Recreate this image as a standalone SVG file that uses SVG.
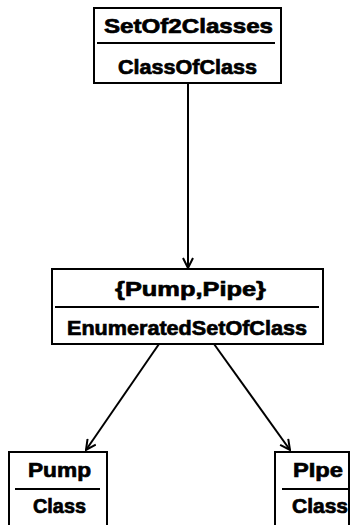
<svg xmlns="http://www.w3.org/2000/svg" width="350" height="525" viewBox="0 0 350 525">
<style>
.box{fill:#fff;stroke:#000;stroke-width:2}
.div{stroke:#000;stroke-width:2}
.t{font-family:"Liberation Sans",Arial,sans-serif;font-weight:bold;font-size:21px;fill:#000;stroke:#000;stroke-width:0.7}
.edge{stroke:#000;stroke-width:2;fill:none}
</style>
<defs>
<marker id="arr" viewBox="0 0 12 12" refX="11" refY="6" markerWidth="12" markerHeight="12" markerUnits="userSpaceOnUse" orient="auto">
<path d="M1,1 L11,6 L1,11" fill="none" stroke="#000" stroke-width="2"/>
</marker>
</defs>
<g id="connectors">
<line class="edge" x1="188" y1="83" x2="188" y2="268" marker-end="url(#arr)"/>
<line class="edge" x1="159" y1="344" x2="86" y2="450" marker-end="url(#arr)"/>
<line class="edge" x1="214" y1="344" x2="290" y2="450" marker-end="url(#arr)"/>
</g>
<g id="SetOf2Classes">
<rect class="box" x="94" y="8" width="187" height="75"/>
<line class="div" x1="97" y1="43" x2="275" y2="43"/>
<text class="t" x="104" y="33" textLength="169" lengthAdjust="spacingAndGlyphs">SetOf2Classes</text>
<text class="t" x="118" y="74" textLength="139" lengthAdjust="spacingAndGlyphs">ClassOfClass</text>
</g>
<g id="PumpPipe">
<rect class="box" x="52" y="269" width="271" height="75"/>
<line class="div" x1="55" y1="307" x2="319" y2="307"/>
<text class="t" x="115" y="296" textLength="151" lengthAdjust="spacingAndGlyphs">{Pump,Pipe}</text>
<text class="t" x="67" y="335" textLength="240" lengthAdjust="spacingAndGlyphs">EnumeratedSetOfClass</text>
</g>
<g id="Pump">
<rect class="box" x="9" y="452" width="98" height="80"/>
<line class="div" x1="15" y1="489" x2="100" y2="489"/>
<text class="t" x="28" y="477" textLength="63" lengthAdjust="spacingAndGlyphs">Pump</text>
<text class="t" x="33" y="513" textLength="53" lengthAdjust="spacingAndGlyphs">Class</text>
</g>
<g id="Pipe">
<rect class="box" x="275" y="452" width="74" height="80"/>
<line class="div" x1="282" y1="489" x2="348" y2="489"/>
<text class="t" x="293" y="477" textLength="50" lengthAdjust="spacingAndGlyphs">PIpe</text>
<text class="t" x="292" y="513" textLength="56" lengthAdjust="spacingAndGlyphs">Class</text>
</g>
</svg>
